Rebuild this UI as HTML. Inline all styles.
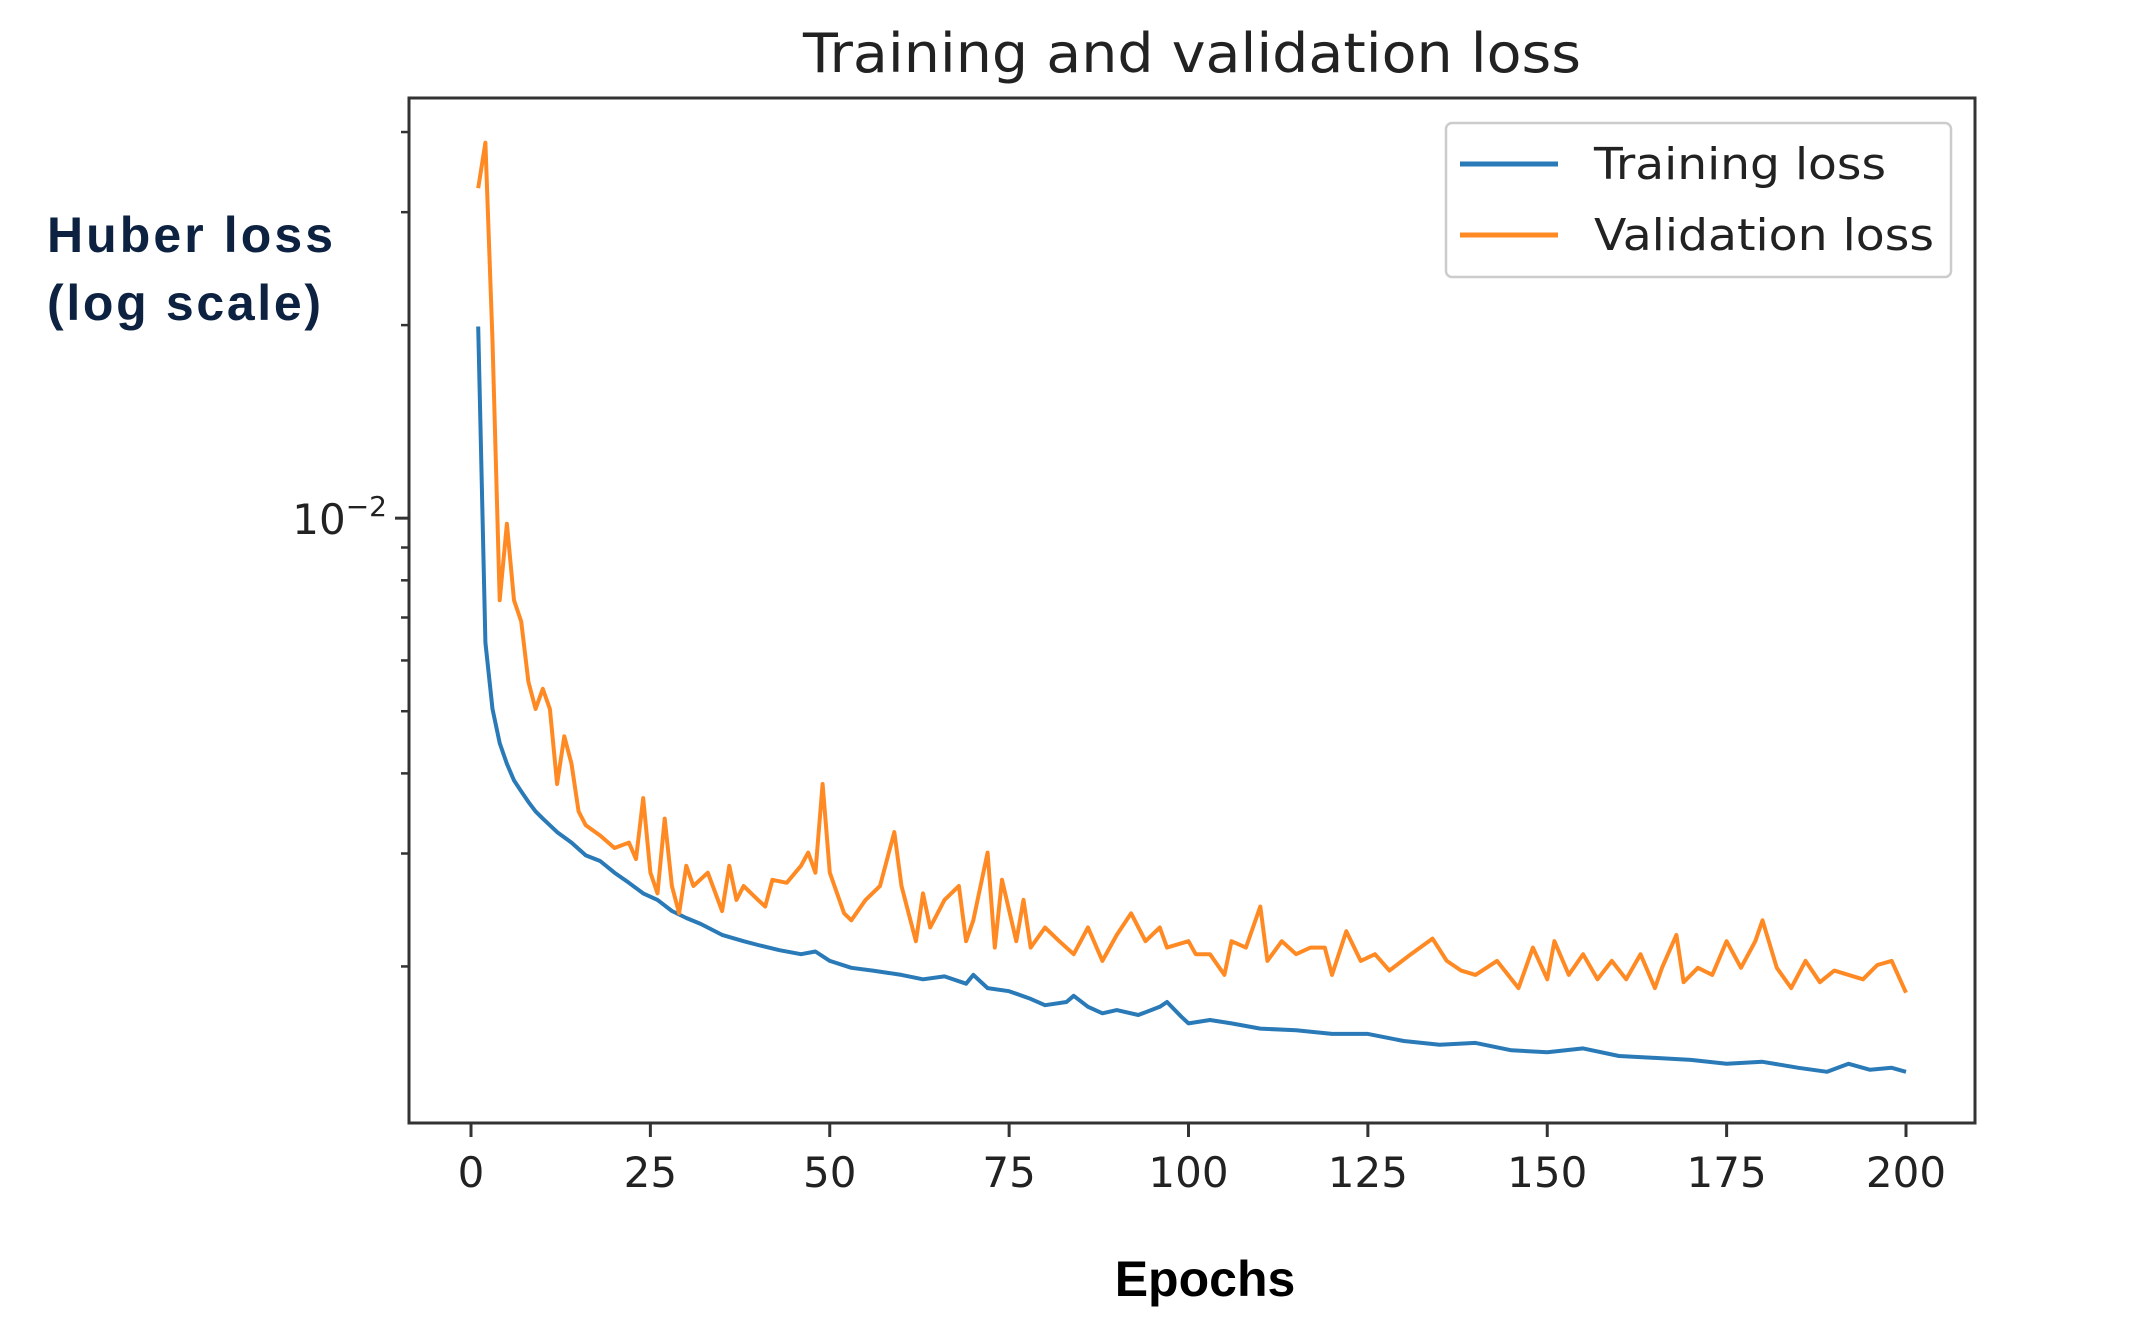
<!DOCTYPE html>
<html><head><meta charset="utf-8"><style>
html,body{margin:0;padding:0;background:#fff;}
svg{display:block;}
</style></head><body>
<svg id="chart" width="2138" height="1321" viewBox="0 0 2138 1321" xmlns="http://www.w3.org/2000/svg">
<rect width="2138" height="1321" fill="#fff"/>
<text x="1192" y="72" text-anchor="middle" font-family="DejaVu Sans, sans-serif" font-size="54" fill="#222" textLength="778" lengthAdjust="spacingAndGlyphs">Training and validation loss</text>
<text x="47" y="252" font-family="Liberation Sans, sans-serif" font-weight="bold" font-size="50" fill="#0d2240" textLength="286">Huber loss</text>
<text x="47" y="320" font-family="Liberation Sans, sans-serif" font-weight="bold" font-size="50" fill="#0d2240" textLength="274">(log scale)</text>
<text x="1205" y="1296" text-anchor="middle" font-family="Liberation Sans, sans-serif" font-weight="bold" font-size="50" fill="#000">Epochs</text>
<g id="plot"></g>
</svg>
<script>
const trainEpochs=[1,2,3,4,5,6,7,8,9,10,12,14,16,18,20,22,24,26,28,30,32,35,38,40,43,46,48,50,53,56,60,63,66,69,70,72,75,78,80,83,84,86,88,90,93,96,97,99,100,103,106,110,115,120,125,130,135,140,145,150,155,160,165,170,175,180,185,189,192,195,198,200];
const trainLoss=[0.0199,0.0064,0.00504,0.00446,0.00414,0.0039,0.00375,0.00361,0.00349,0.0034,0.00324,0.00312,0.00298,0.00292,0.0028,0.0027,0.0026,0.00254,0.00244,0.00238,0.00233,0.00224,0.00219,0.00216,0.00212,0.00209,0.00211,0.00204,0.00199,0.00197,0.00194,0.00191,0.00193,0.00188,0.00194,0.00185,0.00183,0.00178,0.00174,0.00176,0.0018,0.00173,0.00169,0.00171,0.00168,0.00173,0.00176,0.00167,0.00163,0.00165,0.00163,0.0016,0.00159,0.00157,0.00157,0.00153,0.00151,0.00152,0.00148,0.00147,0.00149,0.00145,0.00144,0.00143,0.00141,0.00142,0.00139,0.00137,0.00141,0.00138,0.00139,0.00137];
const valEpochs=[1,2,3,4,5,6,7,8,9,10,11,12,13,14,15,16,18,20,22,23,24,25,26,27,28,29,30,31,33,35,36,37,38,40,41,42,44,46,47,48,49,50,52,53,55,57,59,60,62,63,64,66,68,69,70,72,73,74,76,77,78,80,82,84,86,88,90,92,94,96,97,100,101,103,105,106,108,110,111,113,115,117,119,120,122,124,126,128,131,134,136,138,140,143,146,148,150,151,153,155,157,159,161,163,165,166,168,169,171,173,175,177,179,180,182,184,186,188,190,192,194,196,198,200];
const valLoss=[0.0327,0.0385,0.0189,0.00745,0.0098,0.00745,0.0069,0.00556,0.00504,0.00542,0.00504,0.00385,0.00457,0.00414,0.00349,0.00332,0.0032,0.00306,0.00312,0.00294,0.00366,0.0028,0.0026,0.0034,0.00267,0.00242,0.00287,0.00267,0.0028,0.00244,0.00287,0.00254,0.00267,0.00254,0.00248,0.00273,0.0027,0.00287,0.00301,0.0028,0.00385,0.0028,0.00242,0.00236,0.00254,0.00267,0.00324,0.00267,0.00219,0.0026,0.0023,0.00254,0.00267,0.00219,0.00236,0.00301,0.00214,0.00273,0.00219,0.00254,0.00214,0.0023,0.00219,0.00209,0.0023,0.00204,0.00224,0.00242,0.00219,0.0023,0.00214,0.00219,0.00209,0.00209,0.00194,0.00219,0.00214,0.00248,0.00204,0.00219,0.00209,0.00214,0.00214,0.00194,0.00227,0.00204,0.00209,0.00197,0.00209,0.00221,0.00204,0.00197,0.00194,0.00204,0.00185,0.00214,0.00191,0.00219,0.00194,0.00209,0.00191,0.00204,0.00191,0.00209,0.00185,0.00199,0.00224,0.00189,0.00199,0.00194,0.00219,0.00199,0.00219,0.00236,0.00199,0.00185,0.00204,0.00189,0.00197,0.00194,0.00191,0.00201,0.00204,0.00182];
const xTicks=[0,25,50,75,100,125,150,175,200];
const yMinorTicks=[0.002,0.003,0.004,0.005,0.006,0.007,0.008,0.009,0.02,0.03,0.04];
const yMajorTick=0.01;
const yMajorLabel="10";
const yMajorExp="\u22122";

const L=409,R=1975,T=98,B=1123;
const x0=471,x200=1906;
function xs(e){return x0+(x200-x0)*e/200;}
const logTop=Math.log10(0.0452),logBot=Math.log10(0.00114);
function ys(v){const l=Math.log10(v);return T+(logTop-l)/(logTop-logBot)*(B-T);}
const NS="http://www.w3.org/2000/svg";
const g=document.getElementById('plot');
function mk(tag,attrs,parent){const e=document.createElementNS(NS,tag);for(const k in attrs)e.setAttribute(k,attrs[k]);(parent||g).appendChild(e);return e;}

function path(ep,vals){return ep.map((e,i)=>(i?'L':'M')+xs(e).toFixed(1)+','+ys(vals[i]).toFixed(1)).join(' ');}
const tl=mk('path',{d:path(trainEpochs,trainLoss),fill:'none',stroke:'#2a7ab8','stroke-width':4,'stroke-linejoin':'round'});


const vl=mk('path',{d:path(valEpochs,valLoss),fill:'none',stroke:'#ff8a24','stroke-width':4,'stroke-linejoin':'round'});



const fr=mk('rect',{x:L,y:T,width:R-L,height:B-T,fill:'none',stroke:'#333','stroke-width':3});



xTicks.forEach(t=>{
  const x=xs(t);
  const tk=mk('line',{x1:x,x2:x,y1:B,y2:B+14,stroke:'#333','stroke-width':3});
  
  
  const tx=mk('text',{x:x,y:B+64,'text-anchor':'middle','font-family':'DejaVu Sans, sans-serif','font-size':42,fill:'#222'});
  tx.textContent=t;
  
  
});
yMinorTicks.forEach(v=>{
  const y=ys(v);
  const tk=mk('line',{x1:L-8,x2:L,y1:y,y2:y,stroke:'#333','stroke-width':2.5});
  
  
});
const ym=ys(yMajorTick);
const mt=mk('line',{x1:L-14,x2:L,y1:ym,y2:ym,stroke:'#333','stroke-width':3});


const yl=mk('text',{x:L-22,y:ym+16,'text-anchor':'end','font-family':'DejaVu Sans, sans-serif','font-size':42,fill:'#222'});


const b=document.createElementNS(NS,'tspan');b.textContent=yMajorLabel;yl.appendChild(b);
const s=document.createElementNS(NS,'tspan');s.setAttribute('dy','-18');s.setAttribute('font-size','28');s.textContent=yMajorExp;yl.appendChild(s);

const lg=mk('rect',{x:1446,y:123,width:505,height:154,rx:6,fill:'#fff',stroke:'#ccc','stroke-width':2.5});


const entries=[['Training loss','#2a7ab8',164,292],['Validation loss','#ff8a24',235,340]];
entries.forEach(([lab,c,y,w])=>{
  const ln=mk('line',{x1:1460,x2:1558,y1:y,y2:y,stroke:c,'stroke-width':5});
  
  
  const t=mk('text',{x:1594,y:y+15,'font-family':'DejaVu Sans, sans-serif','font-size':44,fill:'#222',textLength:w,lengthAdjust:'spacingAndGlyphs'});
  t.textContent=lab;
  
  
});
</script>
</body></html>
